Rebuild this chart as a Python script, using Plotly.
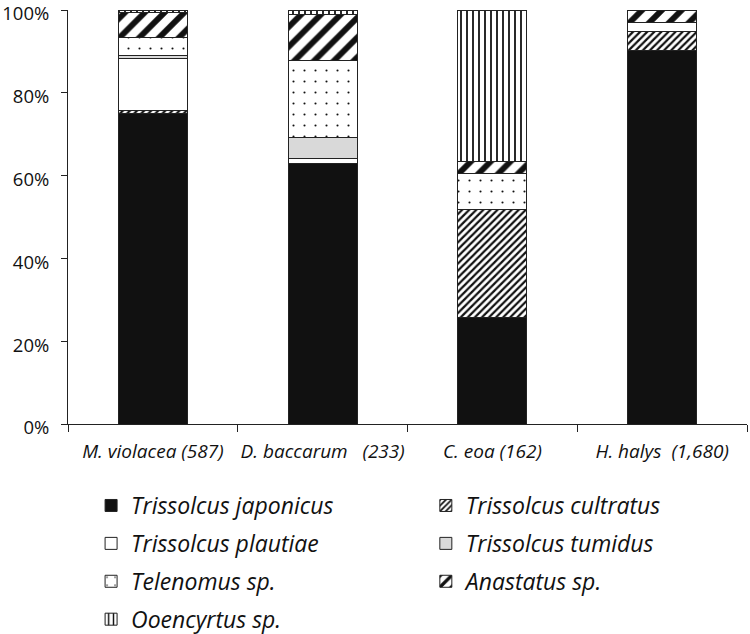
import plotly.graph_objects as go

categories = ["M. violacea (587)", "D. baccarum\u00a0\u00a0 (233)", "C. eoa (162)", "H. halys\u00a0 (1,680)"]

japonicus = [75.0, 63.0, 25.8, 90.3]
cultratus = [0.7, 0.0, 25.9, 4.6]
plautiae = [12.6, 1.2, 0.0, 2.2]
tumidus = [0.7, 4.9, 0.0, 0.0]
telenomus = [4.4, 18.8, 8.7, 0.0]
anastatus = [6.0, 11.1, 3.1, 2.9]
ooencyrtus = [0.6, 1.0, 36.5, 0.0]

y_ticks = [0, 20, 40, 60, 80, 100]
y_tick_labels = ["0%", "20%", "40%", "60%", "80%", "100%"]

FONT = "Open Sans"


def pat(shape, size, solidity):
    return dict(shape=shape, fgcolor="#111111", bgcolor="white", fgopacity=1,
                size=size, solidity=solidity, fillmode="overlay")


series = [
    ("Trissolcus japonicus", japonicus, dict(color="#111111"), "legend"),
    ("Trissolcus cultratus", cultratus, dict(color="white", pattern=pat("/", 5, 0.45)), "legend2"),
    ("Trissolcus plautiae", plautiae, dict(color="white"), "legend"),
    ("Trissolcus tumidus", tumidus, dict(color="#d9d9d9"), "legend2"),
    ("Telenomus sp.", telenomus, dict(color="white", pattern=pat(".", 11, 0.03)), "legend"),
    ("Anastatus sp.", anastatus, dict(color="white", pattern=pat("/", 14, 0.42)), "legend2"),
    ("Ooencyrtus sp.", ooencyrtus, dict(color="white", pattern=pat("|", 6, 0.3)), "legend"),
]

fig = go.Figure()
for name, vals, marker, leg in series:
    m = dict(marker)
    m["line"] = dict(color="#222222", width=1)
    fig.add_trace(go.Bar(
        x=categories, y=vals, name=name, marker=m, width=0.406,
        legend=leg, legendgroup=name,
    ))

legend_common = dict(
    font=dict(family=FONT, size=23, color="#111111", style="italic"),
    orientation="v", traceorder="grouped", tracegroupgap=5,
    bgcolor="rgba(0,0,0,0)", yanchor="top", xanchor="left",
    itemclick=False, itemdoubleclick=False,
)

fig.update_layout(
    width=750, height=634,
    margin=dict(l=67.5, r=2.5, t=10, b=210, autoexpand=False),
    barmode="stack",
    plot_bgcolor="white", paper_bgcolor="white",
    font=dict(family=FONT, color="#111111"),
    showlegend=True,
    legend=dict(x=0.034, y=-0.145, **legend_common),
    legend2=dict(x=0.527, y=-0.145, **legend_common),
    xaxis=dict(
        type="category", range=[-0.5, 3.5], automargin=False,
        showline=True, linecolor="#222222", linewidth=1,
        ticks="outside", tickson="boundaries", ticklen=7, tickcolor="#222222",
        tickfont=dict(family=FONT, size=19, style="italic", color="#111111"),
        tickangle=0,
        showgrid=False, ticklabelstandoff=10, ticklabeloverflow="allow",
    ),
    yaxis=dict(
        range=[0, 100], tickmode="array", tickvals=y_ticks, ticktext=y_tick_labels,
        automargin=False,
        showline=True, linecolor="#222222", linewidth=1,
        ticks="outside", ticklen=6, tickcolor="#222222",
        tickfont=dict(family=FONT, size=18.5, color="#111111"),
        showgrid=False, zeroline=False, ticklabelstandoff=8, ticklabelshift=4,
        ticklabeloverflow="allow",
    ),
)

# remove the browser's default 8px page margin so the figure sits at the window corner
fig.write_html(
    "out.html",
    config={"displayModeBar": False},
    post_script="document.body.style.margin='0px';",
)
